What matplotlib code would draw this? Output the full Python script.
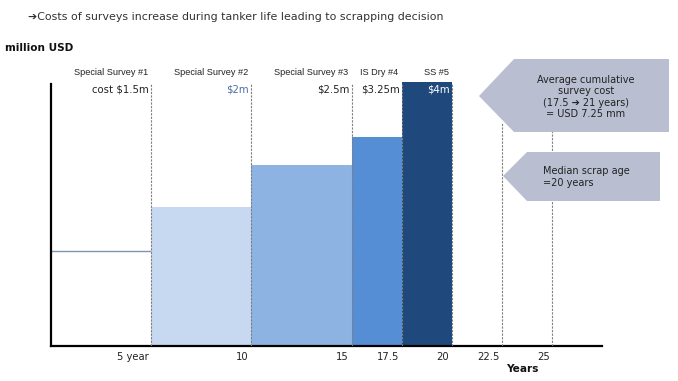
import matplotlib
matplotlib.use("Agg")
import matplotlib.pyplot as plt
from matplotlib.patches import Polygon
from matplotlib import font_manager

W, H = 678, 381
fig = plt.figure(figsize=(W / 100, H / 100), dpi=100)

# ---- data ----
survey_names = ["Special Survey #1", "Special Survey #2", "Special Survey #3", "IS Dry #4", "SS #5"]
cost_labels = ["cost $1.5m", "$2m", "$2.5m", "$3.25m", "$4m"]
bar_starts = [0, 5, 10, 15, 17.5]
bar_ends = [5, 10, 15, 17.5, 20]
bar_heights = [1.44, 2.11, 2.74, 3.17, 4.0]
bar_colors = [None, "#c6d9f1", "#8db3e2", "#558ed5", "#1f497d"]
cost_colors = ["#222222", "#4a6fa5", "#222222", "#222222", "#ffffff"]
tick_positions = [5, 10, 15, 17.5, 20, 22.5, 25]
tick_labels = ["5 year", "10", "15", "17.5", "20", "22.5", "25"]

names = {f.name for f in font_manager.fontManager.ttflist}
narrow = "Liberation Sans Narrow" if "Liberation Sans Narrow" in names else "DejaVu Sans"

def fx(px):
    return px / W

def fy(py):
    return 1 - py / H

# axes: x 0 -> 50.75px, 20.05 px/year ; y 0 -> 346px, 66 px/unit
x0, xend = 50.75, 602
ytop, ybot = 82, 346
ax = fig.add_axes([fx(x0), fy(ybot), fx(xend) - fx(x0), fy(ytop) - fy(ybot)])
ax.set_xlim(0, (xend - x0) / 20.05)
ax.set_ylim(0, 4.0)
for s in ["top", "right"]:
    ax.spines[s].set_visible(False)
ax.spines["left"].set_linewidth(1.6)
ax.spines["bottom"].set_linewidth(1.6)
ax.spines["left"].set_bounds(0, 3.97)
ax.set_yticks([])
ax.set_xticks([])

# bars
for s, e, h, c in zip(bar_starts, bar_ends, bar_heights, bar_colors):
    if c is None:
        ax.plot([s, e], [h, h], color="#7d93b3", lw=1.0, zorder=2)
    else:
        ax.bar(s, h, width=e - s, align="edge", color=c, edgecolor="none", zorder=2, clip_on=False)

# dashed vertical lines
for i, t in enumerate(tick_positions):
    top = 3.97 if t <= 20 else 3.40
    ax.plot([t, t], [0, top], color="#7f7f7f", lw=0.8, ls=(0, (2, 1.2)), zorder=3)

# tick labels (right aligned to the lines)
for t, lab in zip(tick_positions, tick_labels):
    ax.text(t - 0.12, -0.09, lab, ha="right", va="top", fontsize=7.2, color="#222222",
            family="DejaVu Sans")

# survey labels and costs
for e, nm, cl, cc in zip(bar_ends, survey_names, cost_labels, cost_colors):
    ax.text(e - 0.15, 4.07, nm, ha="right", va="bottom", fontsize=6.6, family="Liberation Sans",
            color="#222222")
    ax.text(e - 0.1, 3.88, cl, ha="right", va="center", fontsize=7.3, family="DejaVu Sans",
            color=cc, zorder=5)

# title and axis labels
fig.text(fx(28), fy(17), "\u2794Costs of surveys increase during tanker life leading to scrapping decision",
         ha="left", va="center", fontsize=7.9, family=[narrow, "DejaVu Sans"], color="#333333")
fig.text(fx(5), fy(48), "million USD", ha="left", va="center", fontsize=7.6,
         family="DejaVu Sans", weight="bold", color="#111111")
fig.text(fx(522), fy(369), "Years", ha="center", va="center", fontsize=7.6,
         family="DejaVu Sans", weight="bold", color="#111111")

# callouts
callout_color = "#b9bfd1"
p1 = [(479, 96), (514, 59), (669, 59), (669, 132), (514, 132)]
p2 = [(503, 176), (527, 152), (660, 152), (660, 201), (527, 201)]
for p in (p1, p2):
    fig.patches.append(Polygon([(fx(a), fy(b)) for a, b in p], closed=True,
                               transform=fig.transFigure, facecolor=callout_color,
                               edgecolor="none", zorder=10))

fig.text(fx(586), fy(97), "Average cumulative\nsurvey cost\n(17.5 \u2794 21 years)\n= USD 7.25 mm",
         ha="center", va="center", fontsize=7, family="DejaVu Sans", color="#222222",
         linespacing=1.15, zorder=11)
fig.text(fx(543), fy(177), "Median scrap age\n=20 years", ha="left", va="center",
         fontsize=7, family="DejaVu Sans", color="#222222", linespacing=1.2, zorder=11)

fig.savefig("out.png", dpi=100)
